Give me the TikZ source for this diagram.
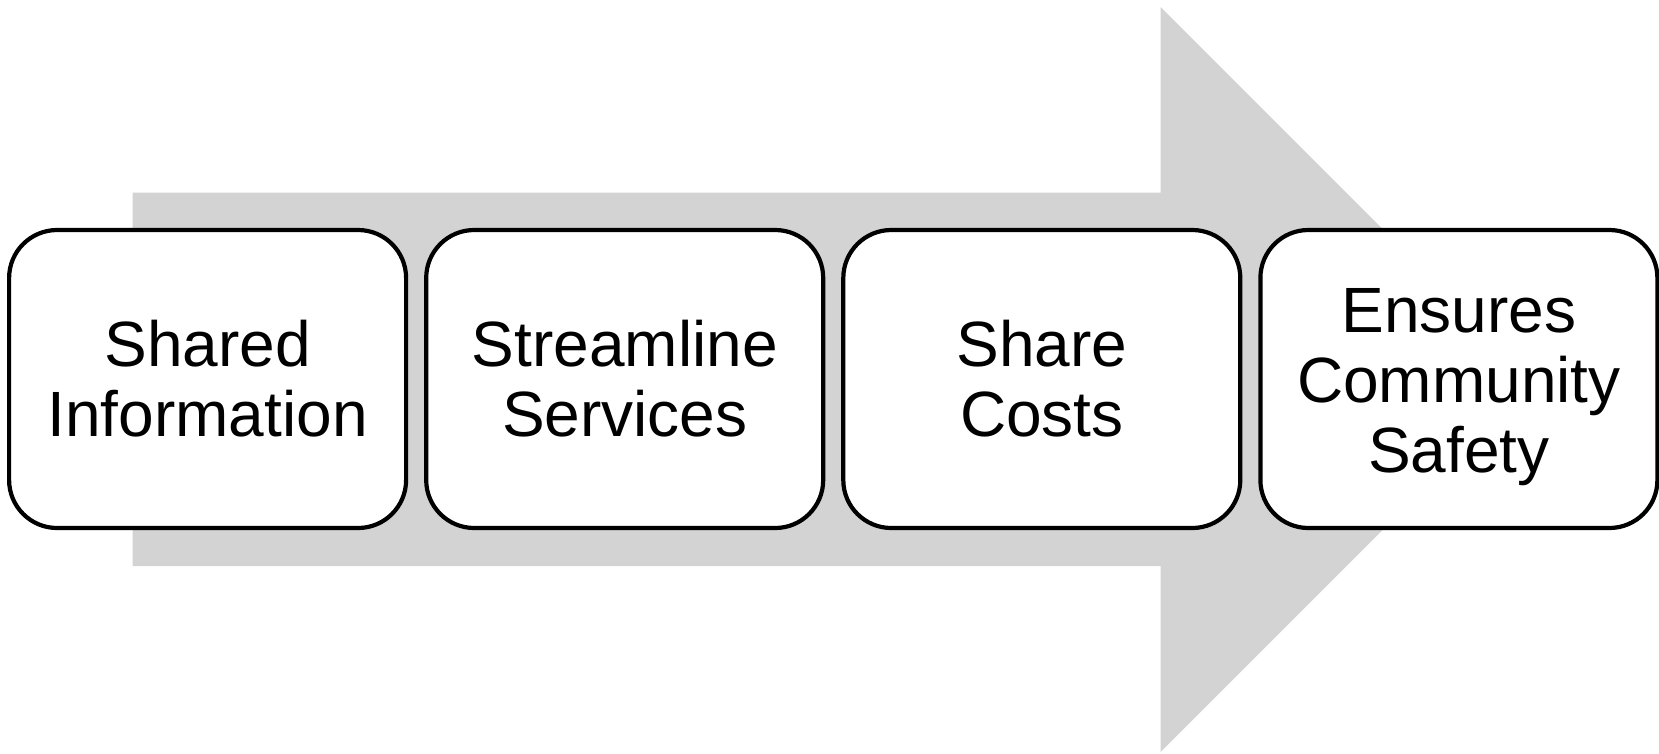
\documentclass[tikz,border=0pt]{standalone}
\usepackage{fontspec}
\setmainfont{Liberation Sans}
\definecolor{arrowgray}{RGB}{211,211,211}
\begin{document}
\begin{tikzpicture}[x=1pt,y=-1pt,
  steptext/.style={align=center, inner sep=0pt, font=\fontsize{64}{70}\selectfont},
  stepbox/.style={steptext, draw=black, line width=4.2pt, fill=white, rounded corners=48pt,
    minimum width=397pt, minimum height=298pt}]
\useasboundingbox (0,0) rectangle (1659,753);
\fill[arrowgray] (132.7,192.5) -- (1160.6,192.5) -- (1160.6,7) -- (1533,379.5)
  -- (1160.6,752) -- (1160.6,566) -- (132.7,566) -- cycle;
\node[stepbox] (b1) at (207.6,379) {Shared\\Information};
\node[stepbox] (b2) at (624.7,379) {Streamline\\Services};
\node[stepbox] (b3) at (1041.8,379) {Share\\Costs};
\node[stepbox] (b4) at (1458.9,379) {};
\node[steptext] (b4t) at ([yshift=-8pt]b4.center) {Ensures\\Community\\Safety};
\end{tikzpicture}
\end{document}
